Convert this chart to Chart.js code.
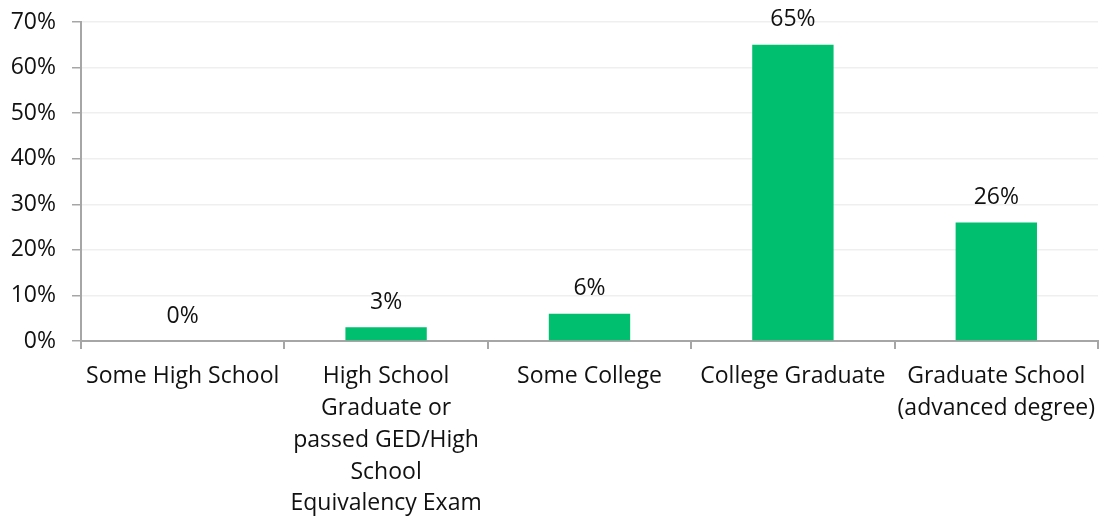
<!DOCTYPE html>
<html>
<head>
<meta charset="utf-8">
<script src="https://cdn.jsdelivr.net/npm/chart.js"></script>
<style>
  html, body { margin: 0; padding: 0; background: #fff; }
  #wrap { width: 1104px; height: 521px; }
</style>
</head>
<body>
<div id="wrap"><canvas id="barChart" width="1104" height="521"></canvas></div>
<script>
    // Education level breakdown
    const categories = [
        'Some High School',
        ['High School', 'Graduate or', 'passed GED/High', 'School', 'Equivalency Exam'],
        'Some College',
        'College Graduate',
        ['Graduate School', '(advanced degree)']
    ];
    const percents = [0, 3, 6, 65, 26];
    const yTicks = [0, 10, 20, 30, 40, 50, 60, 70];

    const FONT = { family: "'Open Sans', sans-serif", size: 23, lineHeight: 1.38 };
    const AXIS_GREY = '#A6A6A6';
    const TEXT = '#111';

    // writes the percentage above each bar
    const valueLabels = {
        id: 'valueLabels',
        afterDatasetsDraw(chart) {
            const c = chart.ctx;
            const meta = chart.getDatasetMeta(0);
            c.save();
            c.font = FONT.size + 'px ' + FONT.family;
            c.fillStyle = TEXT;
            c.textAlign = 'center';
            c.textBaseline = 'middle';
            meta.data.forEach((bar, i) => {
                c.fillText(percents[i] + '%', bar.x, bar.y - 25);
            });
            c.restore();
        }
    };

    const ctx = document.getElementById('barChart').getContext('2d');
    const barChart = new Chart(ctx, {
        type: 'bar',
        data: {
            labels: categories,
            datasets: [{
                data: percents,
                backgroundColor: '#00BF6F',
                barPercentage: 0.4,
                categoryPercentage: 1.0
            }]
        },
        options: {
            responsive: false,
            animation: false,
            layout: { padding: { left: 0, right: 6, top: 22, bottom: 0 } },
            plugins: {
                legend: { display: false },
                tooltip: { enabled: false }
            },
            scales: {
                x: {
                    grid: {
                        offset: true,
                        drawOnChartArea: false,
                        drawTicks: true,
                        tickLength: 8,
                        tickColor: AXIS_GREY,
                        lineWidth: 2
                    },
                    border: { color: AXIS_GREY, width: 2 },
                    ticks: {
                        color: TEXT,
                        font: FONT,
                        padding: 12,
                        maxRotation: 0,
                        autoSkip: false
                    },
                    afterFit(scale) {
                        scale.height = 521 - 341;
                        scale.paddingLeft = 0;
                        scale.paddingRight = 0;
                    }
                },
                y: {
                    min: 0,
                    max: 70,
                    afterBuildTicks(scale) {
                        scale.ticks = yTicks.map(v => ({ value: v }));
                    },
                    grid: {
                        color: '#EFEFEF',
                        lineWidth: 1.5,
                        drawTicks: true,
                        tickLength: 9,
                        tickColor: AXIS_GREY
                    },
                    border: { color: AXIS_GREY, width: 2 },
                    ticks: {
                        color: TEXT,
                        font: { family: FONT.family, size: 23 },
                        padding: 16,
                        callback: v => v + '%'
                    },
                    afterFit(scale) {
                        scale.width = 81;
                        scale.paddingTop = 0;
                        scale.paddingBottom = 0;
                    }
                }
            }
        },
        plugins: [valueLabels]
    });
</script>
</body>
</html>
